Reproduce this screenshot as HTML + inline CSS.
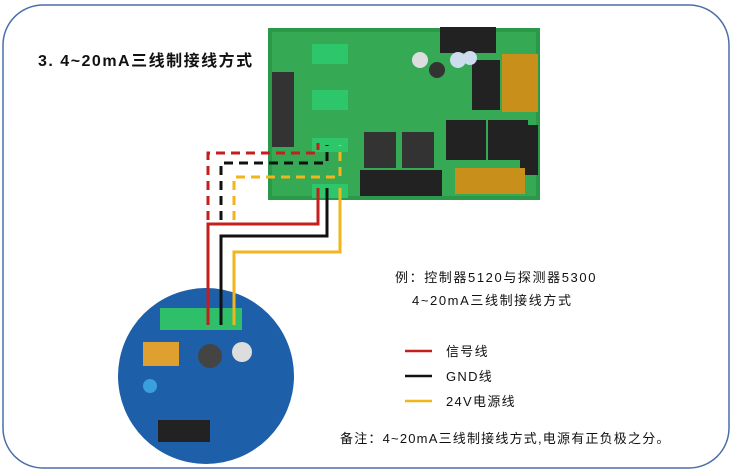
<!DOCTYPE html>
<html><head><meta charset="utf-8"><style>
body{margin:0;width:733px;height:476px;background:#fff;overflow:hidden;font-family:"Liberation Sans","Noto Sans CJK SC",sans-serif;}
</style></head><body>
<svg width="733" height="476" xmlns="http://www.w3.org/2000/svg" style="position:absolute;left:0;top:0">
<rect x="3" y="5" width="726" height="463" rx="40" fill="none" stroke="#4a6fa8" stroke-width="1.5"/>
<text x="38" y="66" font-size="16" font-weight="bold" letter-spacing="1.5" font-family="Liberation Sans,Noto Sans CJK SC,sans-serif" fill="#111">3. 4~20mA三线制接线方式</text>
<!-- PCB -->
<rect x="268" y="28" width="272" height="172" fill="#2a9a4a"/>
<rect x="272" y="32" width="264" height="164" fill="#36a955"/>
<rect x="272" y="72" width="22" height="75" fill="#333"/>
<rect x="312" y="44" width="36" height="20" fill="#2ec66a"/>
<rect x="312" y="90" width="36" height="20" fill="#2ec66a"/>
<rect x="312" y="138" width="36" height="14" fill="#2ec66a"/>
<rect x="312" y="184" width="36" height="14" fill="#2ec66a"/>
<rect x="440" y="27" width="56" height="26" fill="#222"/>
<rect x="472" y="60" width="28" height="50" fill="#222"/>
<rect x="502" y="54" width="36" height="58" fill="#c8901a"/>
<circle cx="420" cy="60" r="8" fill="#ddd"/><circle cx="437" cy="70" r="8" fill="#333"/>
<circle cx="458" cy="60" r="8" fill="#cde"/><circle cx="470" cy="58" r="7" fill="#cde"/>
<rect x="364" y="132" width="32" height="36" fill="#333"/>
<rect x="402" y="132" width="32" height="36" fill="#333"/>
<rect x="446" y="120" width="40" height="40" fill="#222"/>
<rect x="488" y="120" width="40" height="40" fill="#222"/>
<rect x="520" y="125" width="18" height="50" fill="#222"/>
<rect x="360" y="170" width="82" height="26" fill="#222"/>
<rect x="455" y="168" width="70" height="26" fill="#c8901a"/>
<!-- round board -->
<circle cx="206" cy="376" r="88" fill="#1d5fa8"/>
<rect x="160" y="308" width="82" height="22" fill="#2fbf6a"/>
<rect x="143" y="342" width="36" height="24" fill="#e0a030"/>
<circle cx="210" cy="356" r="12" fill="#444"/>
<circle cx="242" cy="352" r="10" fill="#ddd"/>
<circle cx="150" cy="386" r="7" fill="#3aa0dd"/>
<rect x="158" y="420" width="52" height="22" fill="#222"/>
<!-- wires -->
<g fill="none" stroke-width="3">
<path d="M208 220V153H318V143" stroke="#c41e1e" stroke-dasharray="9,6"/>
<path d="M221 220V163H327V145" stroke="#111" stroke-dasharray="9,6"/>
<path d="M234 220V177H340V145" stroke="#f2b51c" stroke-dasharray="9,6"/>
<path d="M318 188V224H208V325" stroke="#c41e1e"/>
<path d="M327 188V236H221V325" stroke="#111"/>
<path d="M340 188V252H234V325" stroke="#f2b51c"/>
</g>
<g font-family="Liberation Sans,Noto Sans CJK SC,sans-serif" font-size="13" fill="#111" letter-spacing="1.3">
<text x="395" y="282" letter-spacing="1.6">例：控制器5120与探测器5300</text>
<text x="412" y="305" letter-spacing="1.6">4~20mA三线制接线方式</text>
<text x="446" y="356">信号线</text>
<text x="446" y="381">GND线</text>
<text x="446" y="406">24V电源线</text>
<text x="340" y="443" letter-spacing="1.2">备注：4~20mA三线制接线方式,电源有正负极之分。</text>
</g>
<line x1="405" y1="351" x2="432" y2="351" stroke="#c41e1e" stroke-width="2.5"/>
<line x1="405" y1="376" x2="432" y2="376" stroke="#111" stroke-width="2.5"/>
<line x1="405" y1="401" x2="432" y2="401" stroke="#f2b51c" stroke-width="2.5"/>
</svg>
</body></html>
